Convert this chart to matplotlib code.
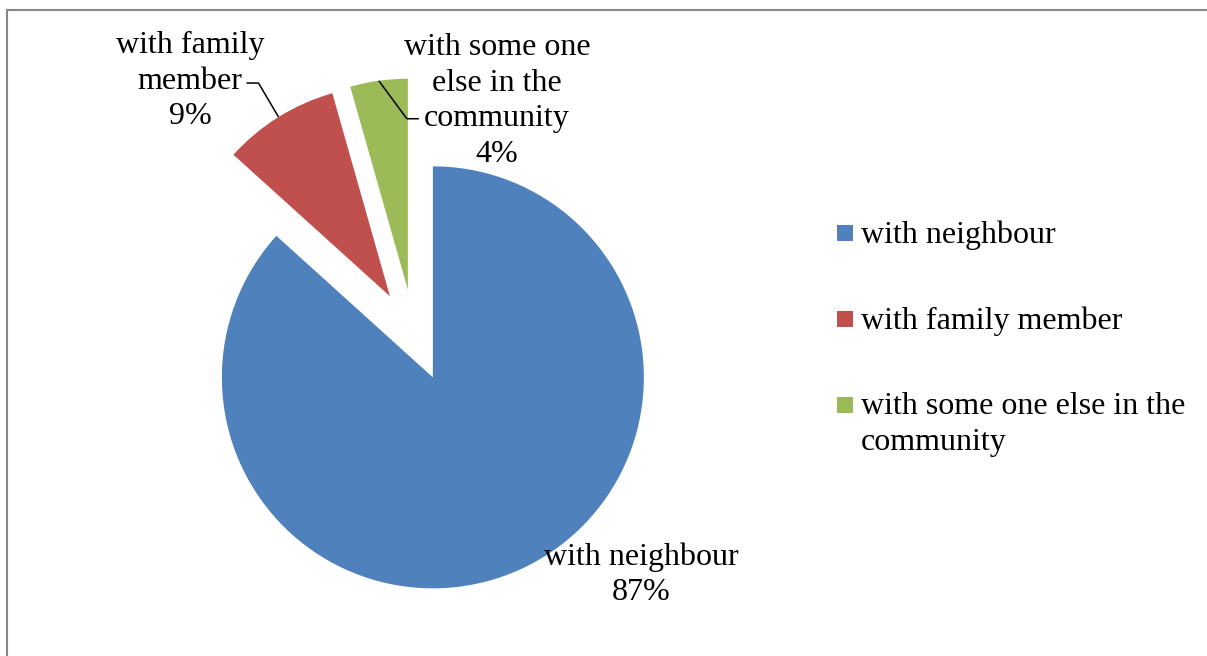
import matplotlib.pyplot as plt
import numpy as np
from matplotlib.lines import Line2D
from matplotlib.patches import Rectangle

plt.rcParams['font.family'] = ['Liberation Serif', 'DejaVu Serif']

categories = ['with neighbour', 'with family member', 'with some one else in the community']
shares = [86.7, 8.9, 4.4]   # labels show rounded %
colors = ['#4F81BD', '#C0504D', '#9BBB59']
explode = [0.218, 0.218, 0.218]
label_names = ['with neighbour', 'with family\nmember', 'with some one\nelse in the\ncommunity']
legend_labels = ['with neighbour', 'with family member',
                 'with some one else in the\ncommunity']

W, H = 1207, 656
R = 211.0              # pie radius, px
cx, cy = 414.2, 335.3  # pie centre, px from top-left
fs = 23
ls = 1.30

fig = plt.figure(figsize=(W / 100, H / 100), dpi=100)
ax = fig.add_axes([0, 0, 1, 1])
wedges, _ = ax.pie(shares, colors=colors, startangle=90, counterclock=False,
                   explode=explode, radius=1, wedgeprops=dict(linewidth=0))
ax.set_xlim(-cx / R, (W - cx) / R)
ax.set_ylim(-(H - cy) / R, cy / R)
ax.set_aspect('equal')

# label positions (relative to pie centre, radius units)
label_pos = [(1.075, -1.135), (-1.063, 1.205), (0.392, 1.11)]
# leader line elbows/ends relative to arc mid point
leaders = [None, [(-0.095, 0.161), (-0.152, 0.161)], [(0.133, -0.18), (0.19, -0.18)]]

total = sum(shares)
for w, name, v, pos, ld in zip(wedges, label_names, shares, label_pos, leaders):
    txt = '%s\n%d%%' % (name, round(100 * v / total))
    ax.text(pos[0], pos[1], txt, ha='center', va='center', fontsize=fs,
            linespacing=ls)
    if ld is None:
        continue
    mid = np.deg2rad((w.theta1 + w.theta2) / 2)
    px = w.center[0] + w.r * np.cos(mid)
    py = w.center[1] + w.r * np.sin(mid)
    xs = [px] + [px + d[0] for d in ld]
    ys = [py] + [py + d[1] for d in ld]
    ax.plot(xs, ys, color='black', lw=1.1, solid_capstyle='butt')

# legend (handle next to the first line of each entry)
sq_y = [233, 319, 405]
txt_y = [243, 329, 414]
for c, lab, y, ty in zip(colors, legend_labels, sq_y, txt_y):
    fig.patches.append(Rectangle((837 / W, 1 - (y + 8) / H), 16 / W, 16 / H,
                                 transform=fig.transFigure, color=c, lw=0))
    for k, line in enumerate(lab.split('\n')):
        fig.text(861 / W, 1 - (ty + 36 * k) / H, line, ha='left', va='baseline',
                 fontsize=fs)

# chart border (left and top visible)
border = '#878787'
fig.add_artist(Line2D([6.7 / W, 6.7 / W], [0, 1 - 9.7 / H], color=border, lw=1.5,
                      transform=fig.transFigure))
fig.add_artist(Line2D([6.7 / W, 1], [1 - 9.7 / H, 1 - 9.7 / H], color=border, lw=1.5,
                      transform=fig.transFigure))

fig.savefig('out.png', dpi=100)
